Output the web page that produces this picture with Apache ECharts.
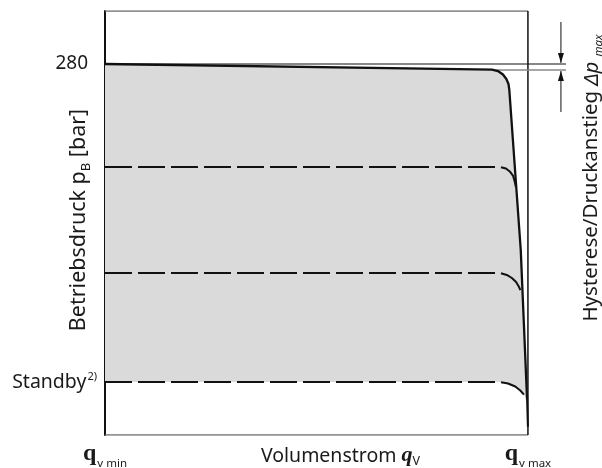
<!DOCTYPE html>
<html>
<head>
<meta charset="utf-8">
<script src="https://cdn.jsdelivr.net/npm/echarts@6/dist/echarts.min.js"></script>
<style>
html,body{margin:0;padding:0;background:#fff;}
#chart{width:602px;height:468px;}
</style>
</head>
<body>
<div id="chart"></div>
<script>
// ---- data (flow in % of q_v max, pressure in bar) ----
const flowTicks = [0, 100];
const flowTickLabels = ['v min', 'v max'];
const pressureTicks = [280, 40];
const pressureTickLabels = ['280', 'Standby'];

// solid 280 bar characteristic
const mainCurve = [[0,280],[91.5,275.8],[92.9,274.7],[94.1,272.1],[94.9,268.7],[95.4,264.9],[95.6,260.4],[98.3,139.6],[99.8,26.5]];
// dashed lower settings
const dashCurve1 = [[0,202.3],[93.4,202.3],[94.8,201.1],[95.7,198.9],[96.5,195.5],[96.9,191.0],[97.2,186.4]];
const dashCurve2 = [[0,122.3],[93.4,122.3],[95.0,120.8],[96.2,118.5],[97.2,115.5],[97.9,111.7],[98.6,106.4]];
const standbyCurve = [[0,40],[93.4,40],[95.3,38.9],[97.0,36.6],[98.2,33.6],[99.1,30.2],[99.8,26.5],[100,5.3]];
// plot frame (q_v min .. q_v max, 0 .. 320 bar)
const frameTop = [[0,320],[100,320]];
const frameBottom = [[0,0],[100,0]];
const frameRight = [[100,0],[100,320]];
// hysteresis marks (right of the plot)
const hystUpper = [[0,280],[109,280]];
const hystLower = [[92,275.5],[109,275.5]];
const arrowX = 107.8;
const arrowDown = [311.7, 280.8];
const arrowUp = [243.8, 274.7];

const fillPolygon = mainCurve.concat(standbyCurve.slice(0, -1).reverse());

const chart = echarts.init(document.getElementById('chart'), null, {renderer: 'canvas'});
const sans = '"Noto Sans", sans-serif';
const serif = '"Liberation Serif", serif';
const ink = '#1a1a1a';
const frameGray = '#6f6f6f';

function plain(data, color, width, z, type) {
  return {type: 'line', z: z, data: data, symbol: 'none', silent: true,
          lineStyle: {color: color, width: width, type: type || 'solid'}};
}

const option = {
  animation: false,
  backgroundColor: '#fff',
  grid: {left: 105, right: 36, top: 11, bottom: 33, show: false, outerBoundsMode: 'none'},
  xAxis: {
    type: 'value', min: 0, max: 109,
    axisLine: {show: false},
    axisTick: {show: false}, splitLine: {show: false},
    axisLabel: {
      customValues: flowTicks, margin: 7,
      formatter: v => '{q|q}{s|' + flowTickLabels[flowTicks.indexOf(v)] + '}',
      rich: {
        q: {fontFamily: serif, fontWeight: 'bold', fontSize: 24, color: ink, verticalAlign: 'bottom', lineHeight: 24},
        s: {fontFamily: sans, fontSize: 11.5, color: ink, verticalAlign: 'bottom', lineHeight: 18, padding: [0,0,-4,1]}
      }
    },
    name: '{t|Volumenstrom }{q|q}{v|V}', nameLocation: 'middle', nameGap: 9, nameMoveOverlap: false,
    nameTextStyle: {
      padding: [0, 0, 0, 10],
      rich: {
        t: {fontFamily: sans, fontSize: 19.5, color: ink, verticalAlign: 'bottom', lineHeight: 22},
        q: {fontFamily: serif, fontStyle: 'italic', fontWeight: 'bold', fontSize: 22, color: ink, verticalAlign: 'bottom', lineHeight: 22},
        v: {fontFamily: sans, fontSize: 12.5, color: ink, verticalAlign: 'bottom', lineHeight: 18, padding: [0,0,-2,0]}
      }
    }
  },
  yAxis: {
    type: 'value', min: 0, max: 320,
    axisLine: {show: true, lineStyle: {color: '#111', width: 2}},
    axisTick: {show: false}, splitLine: {show: false},
    axisLabel: {
      customValues: pressureTicks, margin: 8,
      formatter: v => v === 280 ? '{n|280}' : '{s|Standby}{p|2)}',
      rich: {
        n: {fontFamily: sans, fontSize: 19, color: ink, padding: [0,9,0,0]},
        s: {fontFamily: sans, fontSize: 19.5, color: ink, lineHeight: 22, verticalAlign: 'middle'},
        p: {fontFamily: sans, fontSize: 11, color: ink, verticalAlign: 'top', lineHeight: 22, padding: [0,0,0,1]}
      }
    },
    name: '{t|Betriebsdruck p}{b|B}{t| [bar]}', nameLocation: 'middle', nameGap: 15, nameRotate: 90, nameMoveOverlap: false,
    nameTextStyle: {
      padding: [0, 0, 0, 6],
      rich: {
        t: {fontFamily: sans, fontSize: 21.5, color: ink, verticalAlign: 'bottom', lineHeight: 24},
        b: {fontFamily: sans, fontSize: 13, color: ink, verticalAlign: 'bottom', lineHeight: 18, padding: [0,0,-3,0]}
      }
    }
  },
  graphic: [{
    type: 'text', x: 590, y: 178, rotation: Math.PI / 2,
    style: {
      text: '{t|Hysterese/Druckanstieg }{d|Δ}{i|p}{m| max}',
      align: 'center', verticalAlign: 'middle',
      rich: {
        t: {fontFamily: sans, fontSize: 20.5, fill: ink, verticalAlign: 'bottom', lineHeight: 24},
        d: {fontFamily: sans, fontStyle: 'italic', fontSize: 20.5, fill: ink, verticalAlign: 'bottom', lineHeight: 24},
        i: {fontFamily: sans, fontStyle: 'italic', fontSize: 20.5, fill: ink, verticalAlign: 'bottom', lineHeight: 24},
        m: {fontFamily: sans, fontStyle: 'italic', fontSize: 11.5, fill: ink, verticalAlign: 'bottom', lineHeight: 18, padding: [0,0,-3,2]}
      }
    }
  }],
  series: [
    {
      type: 'custom', z: 1, silent: true,
      data: [[0, 0]],
      renderItem: (params, api) => ({
        type: 'polygon',
        shape: {points: fillPolygon.map(p => api.coord(p))},
        style: {fill: '#dadadb'}
      })
    },
    plain(frameTop, frameGray, 1.5, 3),
    plain(frameBottom, frameGray, 1.5, 3),
    plain(frameRight, '#111', 1.5, 3),
    plain(dashCurve1, '#111', 2, 5, [27, 6]),
    plain(dashCurve2, '#111', 2, 5, [27, 6]),
    plain(standbyCurve, '#111', 2, 5, [27, 6]),
    plain(mainCurve, '#111', 2.3, 6),
    plain(hystUpper, '#111', 1, 7),
    plain(hystLower, '#888', 1.6, 4),
    {type: 'line', z: 7, silent: true, showSymbol: true, itemStyle: {color: '#111'}, lineStyle: {color: '#111', width: 1},
      data: [{value: [arrowX, arrowDown[0]], symbol: 'none'},
             {value: [arrowX, arrowDown[1]], symbol: 'triangle', symbolRotate: 180, symbolSize: [6, 10], symbolOffset: [0, -5]}]},
    {type: 'line', z: 7, silent: true, showSymbol: true, itemStyle: {color: '#111'}, lineStyle: {color: '#111', width: 1},
      data: [{value: [arrowX, arrowUp[0]], symbol: 'none'},
             {value: [arrowX, arrowUp[1]], symbol: 'triangle', symbolRotate: 0, symbolSize: [6, 10], symbolOffset: [0, 5]}]}
  ]
};
chart.setOption(option);
</script>
</body>
</html>
